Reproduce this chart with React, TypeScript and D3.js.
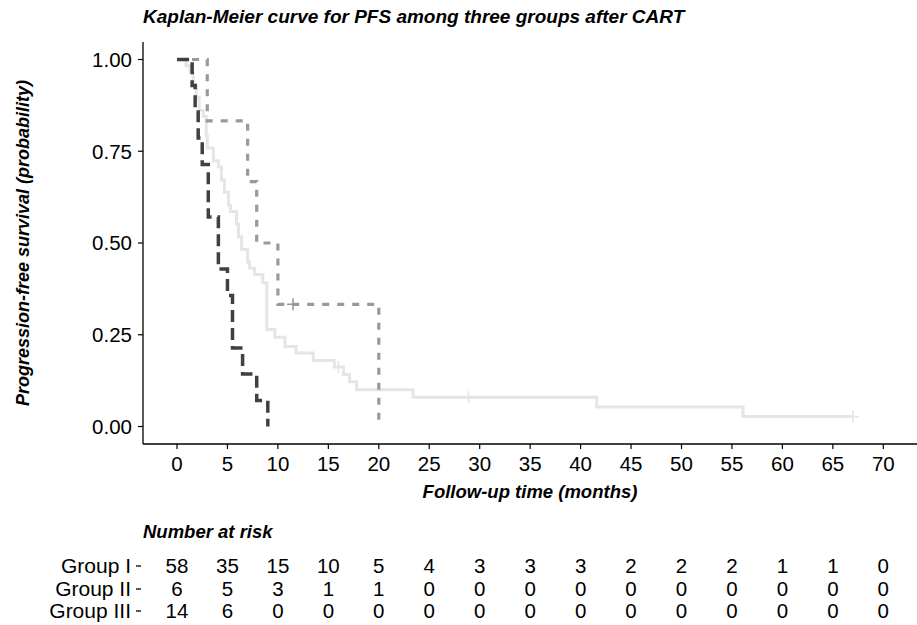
import * as d3 from "d3";

// Kaplan-Meier PFS curves for three groups + number-at-risk table
const W = 917;
const H = 625;
const FONT = "'Liberation Sans', Arial, Helvetica, sans-serif";

const groupNames = ["Group I", "Group II", "Group III"];

// step times (months) and survival after each step
const g1Times = [0, 0.9, 1.3, 1.6, 1.9, 2.2, 2.6, 2.9, 3.0, 3.6, 4.1, 4.4, 4.7, 5.1, 5.3, 5.9, 6.1, 6.4, 7.0, 7.2, 7.7, 8.5, 8.9, 9.7, 10.7, 11.8, 13.5, 15.6, 16.5, 17.1, 17.8, 23.4, 41.6, 56.1];
const g1Surv = [1, 0.983, 0.966, 0.931, 0.897, 0.862, 0.845, 0.793, 0.759, 0.724, 0.707, 0.672, 0.638, 0.603, 0.586, 0.552, 0.517, 0.483, 0.448, 0.431, 0.414, 0.392, 0.264, 0.243, 0.218, 0.2, 0.18, 0.162, 0.142, 0.122, 0.1, 0.08, 0.053, 0.027];
const g1End = 67;
const g1Censor = [16.0, 28.9, 67.0];

const g2Times = [0, 3.0, 7.0, 7.9, 10.0, 20.0];
const g2Surv = [1, 0.833, 0.667, 0.5, 0.333, 0];
const g2End = 20;
const g2Censor = [11.5];

const g3Times = [0, 1.5, 1.8, 2.1, 2.5, 3.1, 4.1, 5.0, 5.5, 6.5, 7.9, 9.0];
const g3Surv = [1, 0.929, 0.857, 0.786, 0.714, 0.571, 0.429, 0.357, 0.214, 0.143, 0.071, 0];
const g3End = 9;
const g3Censor: number[] = [];

const xTicks = [0, 5, 10, 15, 20, 25, 30, 35, 40, 45, 50, 55, 60, 65, 70];
const yTicks = [0, 0.25, 0.5, 0.75, 1];

const risk1 = [58, 35, 15, 10, 5, 4, 3, 3, 3, 2, 2, 2, 1, 1, 0];
const risk2 = [6, 5, 3, 1, 1, 0, 0, 0, 0, 0, 0, 0, 0, 0, 0];
const risk3 = [14, 6, 0, 0, 0, 0, 0, 0, 0, 0, 0, 0, 0, 0, 0];

const panel = { left: 143, right: 917, top: 42, bottom: 444 };

export default function App() {
  const x = d3.scaleLinear().domain([0, 70]).range([177, 883.3]);
  const y = d3.scaleLinear().domain([0, 1]).range([426.5, 59.5]);

  const line = d3
    .line<[number, number]>()
    .x((d) => x(d[0]))
    .y((d) => y(d[1]))
    .curve(d3.curveStepAfter);

  const series = [
    { times: g1Times, surv: g1Surv, end: g1End, censor: g1Censor, color: "#e5e5e5", width: 3, dash: undefined },
    { times: g2Times, surv: g2Surv, end: g2End, censor: g2Censor, color: "#999999", width: 3.2, dash: "7 8" },
    { times: g3Times, surv: g3Surv, end: g3End, censor: g3Censor, color: "#404040", width: 3.5, dash: "12 6" },
  ];

  const survAt = (times: number[], surv: number[], t: number) => {
    let v = 1;
    times.forEach((tt, i) => {
      if (tt <= t) v = surv[i];
    });
    return v;
  };

  const riskRows = [risk1, risk2, risk3];
  const rowBase = [573, 596, 618];

  return (
    <svg
      width={W}
      height={H}
      style={{ position: "absolute", left: 0, top: 0, background: "#fff" }}
      fontFamily={FONT}
    >
      {/* title */}
      <text x={143} y={23} fontSize={19} fontWeight="bold" fontStyle="italic">
        Kaplan-Meier curve for PFS among three groups after CART
      </text>

      {/* curves */}
      {series.map((s, i) => {
        const pts: [number, number][] = s.times.map((t, j) => [t, s.surv[j]]);
        const last = pts[pts.length - 1];
        if (last[0] < s.end) pts.push([s.end, last[1]]);
        return (
          <g key={i}>
            <path
              d={line(pts) || ""}
              fill="none"
              stroke={s.color}
              strokeWidth={s.width}
              strokeDasharray={s.dash}
            />
            {s.censor.map((c, k) => {
              const cx = x(c);
              const cy = y(survAt(s.times, s.surv, c));
              return (
                <g key={k} stroke={s.color} strokeWidth={1.6}>
                  <line x1={cx - 6} x2={cx + 6} y1={cy} y2={cy} />
                  <line x1={cx} x2={cx} y1={cy - 6} y2={cy + 6} />
                </g>
              );
            })}
          </g>
        );
      })}

      {/* axes */}
      <line x1={panel.left} x2={panel.left} y1={panel.top} y2={panel.bottom} stroke="#000" strokeWidth={1.3} />
      <line x1={panel.left} x2={panel.right} y1={panel.bottom} y2={panel.bottom} stroke="#000" strokeWidth={1.3} />
      {yTicks.map((t) => (
        <g key={t}>
          <line x1={panel.left - 5} x2={panel.left} y1={y(t)} y2={y(t)} stroke="#000" strokeWidth={1.2} />
          <text x={panel.left - 11} y={y(t)} dy="0.36em" textAnchor="end" fontSize={20.5}>
            {t.toFixed(2)}
          </text>
        </g>
      ))}
      {xTicks.map((t) => (
        <g key={t}>
          <line x1={x(t)} x2={x(t)} y1={panel.bottom} y2={panel.bottom + 5} stroke="#000" strokeWidth={1.2} />
          <text x={x(t)} y={470.5} textAnchor="middle" fontSize={20.5}>
            {t}
          </text>
        </g>
      ))}
      <text
        x={(panel.left + panel.right) / 2}
        y={498}
        textAnchor="middle"
        fontSize={18.5}
        fontWeight="bold"
        fontStyle="italic"
      >
        Follow-up time (months)
      </text>
      <text
        transform={`translate(29,${(panel.top + panel.bottom) / 2}) rotate(-90)`}
        textAnchor="middle"
        fontSize={18}
        fontWeight="bold"
        fontStyle="italic"
      >
        Progression-free survival (probability)
      </text>

      {/* risk table */}
      <text x={143} y={538} fontSize={18.5} fontWeight="bold" fontStyle="italic">
        Number at risk
      </text>
      {riskRows.map((row, r) => (
        <g key={r}>
          <text x={131} y={rowBase[r]} textAnchor="end" fontSize={21}>
            {groupNames[r]}
          </text>
          <line x1={136} x2={141} y1={rowBase[r] - 7} y2={rowBase[r] - 7} stroke="#000" strokeWidth={1.3} />
          {row.map((v, k) => (
            <text key={k} x={x(xTicks[k])} y={rowBase[r]} textAnchor="middle" fontSize={20.5}>
              {v}
            </text>
          ))}
        </g>
      ))}
    </svg>
  );
}
